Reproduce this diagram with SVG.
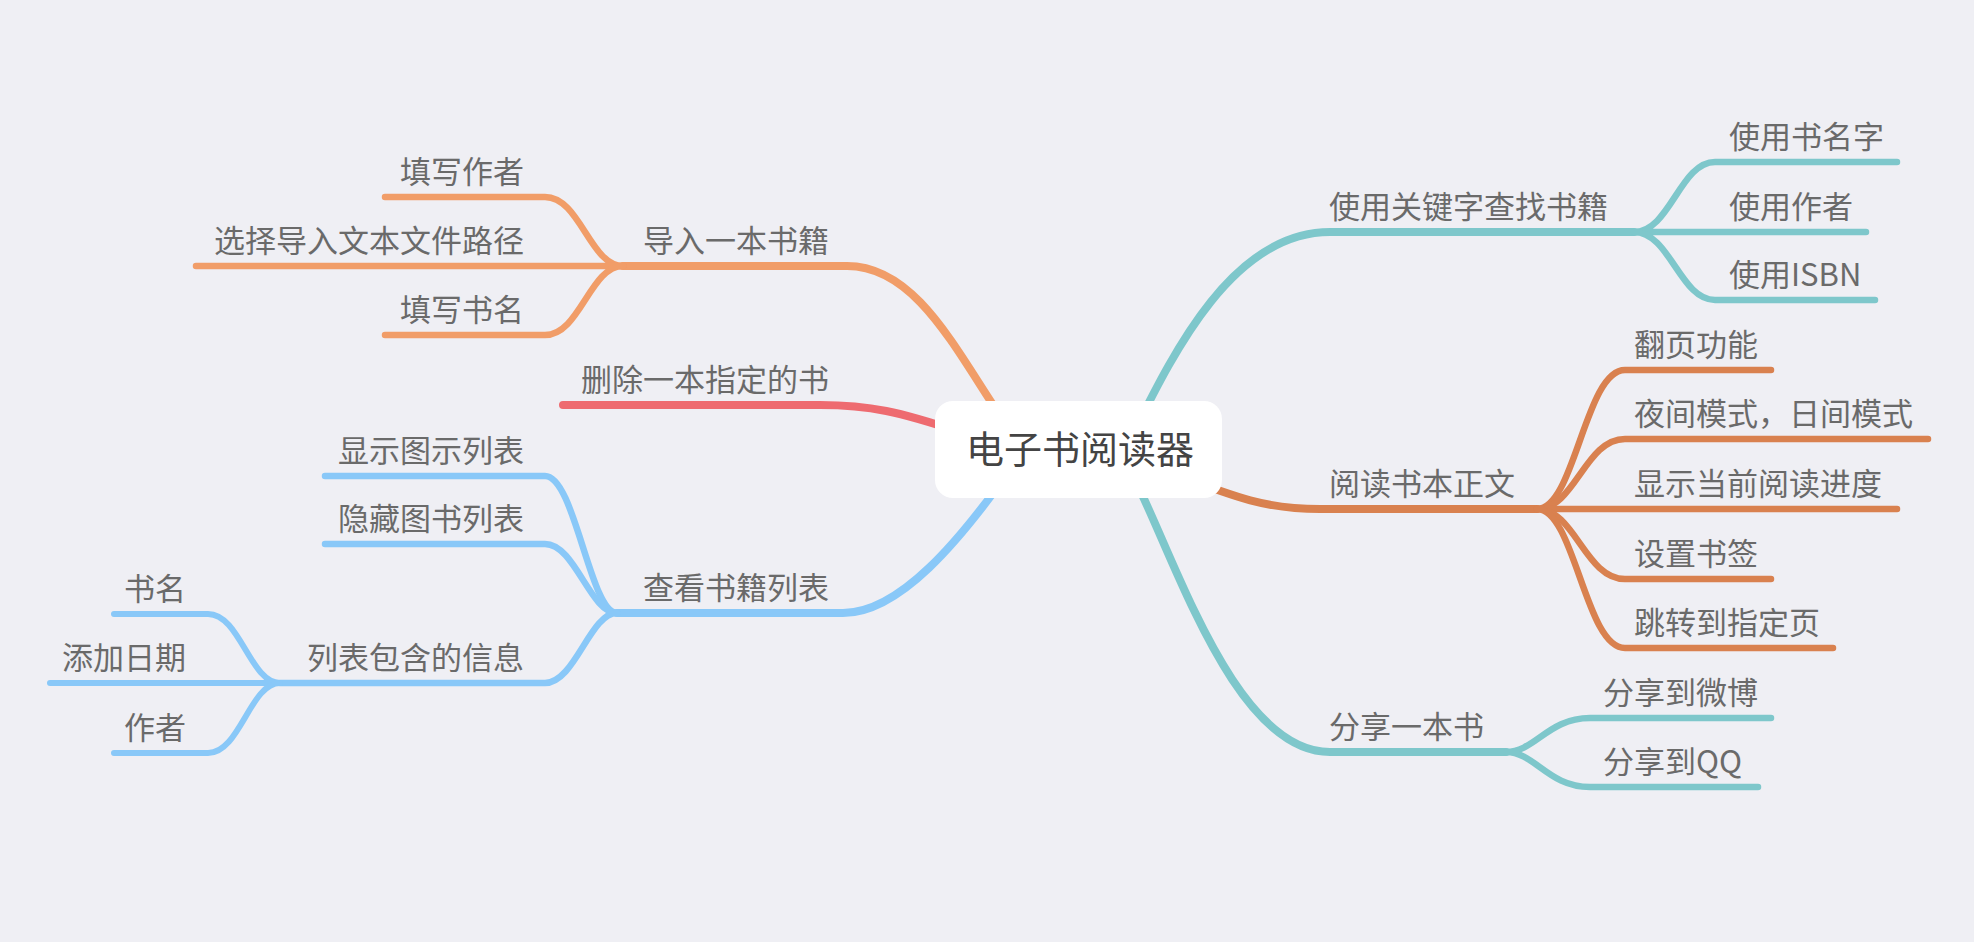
<svg xmlns="http://www.w3.org/2000/svg" width="1974" height="942" viewBox="0 0 1974 942">
<style>
text{font-family:"Noto Sans CJK SC","Noto Sans",sans-serif;font-size:31px;fill:#6a6a6a}
.e{text-anchor:end}
.c path{fill:none;stroke-linecap:round;stroke-linejoin:round}
.m{stroke-width:8}
.s{stroke-width:6.5}
.t{stroke-width:6}
.o{stroke:#f19d68}.r{stroke:#ee6b70}.b{stroke:#89c8f8}.g{stroke:#7ec7cb}.d{stroke:#d9814f}
</style>
<rect width="1974" height="942" fill="#efeff4"/>
<g id="connectors" class="c">
<path class="m o" d="M1010 430 C960 360 920 266 847 266 H623"/>
<path class="s o" d="M623 266 C590 266 580 197 545 197 H385"/>
<path class="s o" d="M623 266 H196"/>
<path class="s o" d="M623 266 C590 266 580 335 545 335 H385"/>
<path class="m r" d="M960 432 C900 412 870 405 820 405 H563"/>
<path class="m b" d="M1010 470 C960 540 900 613 843 613 H617"/>
<path class="s b" d="M617 613 C590 613 575 476 545 476 H325"/>
<path class="s b" d="M617 613 C590 613 575 544 545 544 H325"/>
<path class="s b" d="M617 613 C590 613 575 683 545 683 H280"/>
<path class="t b" d="M280 683 C250 683 240 614 208 614 H114"/>
<path class="t b" d="M280 683 H50"/>
<path class="t b" d="M280 683 C250 683 240 753 208 753 H114"/>
<path class="m g" d="M1130 440 C1170 360 1230 232 1330 232 H1634"/>
<path class="s g" d="M1634 232 C1670 232 1680 162 1715 162 H1897"/>
<path class="s g" d="M1634 232 H1866"/>
<path class="s g" d="M1634 232 C1670 232 1680 300 1715 300 H1875"/>
<path class="m d" d="M1150 465 C1230 495 1260 509 1320 509 H1537"/>
<path class="s d" d="M1537 509 C1575 509 1585 370 1625 370 H1771"/>
<path class="s d" d="M1537 509 C1575 509 1585 439 1625 439 H1928"/>
<path class="s d" d="M1537 509 H1897"/>
<path class="s d" d="M1537 509 C1575 509 1585 579 1625 579 H1771"/>
<path class="s d" d="M1537 509 C1575 509 1585 648 1625 648 H1833"/>
<path class="m g" d="M1125 460 C1170 540 1230 752 1330 752 H1506"/>
<path class="s g" d="M1506 752 C1535 752 1548 718 1590 718 H1771"/>
<path class="s g" d="M1506 752 C1535 752 1548 787 1590 787 H1758"/>
</g>
<g id="root">
<rect x="935" y="401" width="287" height="97" rx="18" fill="#ffffff"/>
<text x="1080" y="463" text-anchor="middle" style="font-size:38px;fill:#444">电子书阅读器</text>
</g>
<g id="n-import"><text class="e" x="829" y="252">导入一本书籍</text></g>
<g id="n-author1"><text class="e" x="524" y="183">填写作者</text></g>
<g id="n-path"><text class="e" x="524" y="252">选择导入文本文件路径</text></g>
<g id="n-title1"><text class="e" x="524" y="321">填写书名</text></g>
<g id="n-delete"><text class="e" x="829" y="391">删除一本指定的书</text></g>
<g id="n-list"><text class="e" x="829" y="599">查看书籍列表</text></g>
<g id="n-show"><text class="e" x="524" y="462">显示图示列表</text></g>
<g id="n-hide"><text class="e" x="524" y="530">隐藏图书列表</text></g>
<g id="n-info"><text class="e" x="524" y="669">列表包含的信息</text></g>
<g id="n-name"><text class="e" x="186" y="600">书名</text></g>
<g id="n-date"><text class="e" x="186" y="669">添加日期</text></g>
<g id="n-author2"><text class="e" x="186" y="739">作者</text></g>
<g id="n-search"><text x="1329" y="218">使用关键字查找书籍</text></g>
<g id="n-s1"><text x="1729" y="148">使用书名字</text></g>
<g id="n-s2"><text x="1729" y="218">使用作者</text></g>
<g id="n-s3"><text x="1729" y="286">使用ISBN</text></g>
<g id="n-read"><text x="1329" y="495">阅读书本正文</text></g>
<g id="n-r1"><text x="1634" y="356">翻页功能</text></g>
<g id="n-r2"><text x="1634" y="425">夜间模式，日间模式</text></g>
<g id="n-r3"><text x="1634" y="495">显示当前阅读进度</text></g>
<g id="n-r4"><text x="1634" y="565">设置书签</text></g>
<g id="n-r5"><text x="1634" y="634">跳转到指定页</text></g>
<g id="n-share"><text x="1329" y="738">分享一本书</text></g>
<g id="n-sh1"><text x="1603" y="704">分享到微博</text></g>
<g id="n-sh2"><text x="1603" y="773">分享到QQ</text></g>
</svg>
